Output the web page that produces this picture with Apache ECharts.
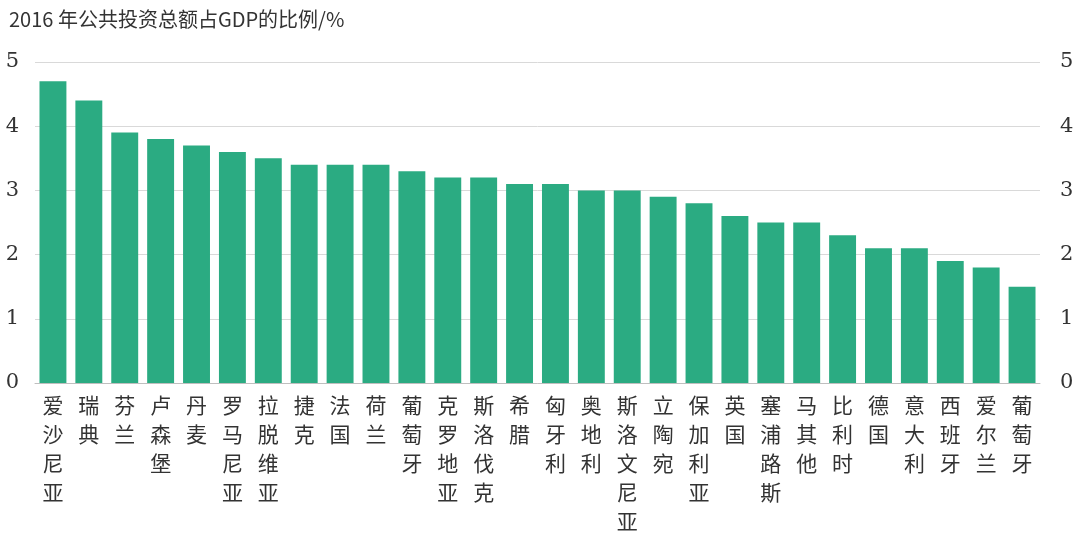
<!DOCTYPE html>
<html><head><meta charset="utf-8">
<script src="https://cdn.jsdelivr.net/npm/echarts@6/dist/echarts.min.js"></script>
<style>html,body{margin:0;background:#fff}#c{width:1080px;height:541px}</style>
</head><body><div id="c"></div>
<script>
var countries = ['爱沙尼亚','瑞典','芬兰','卢森堡','丹麦','罗马尼亚','拉脱维亚','捷克','法国','荷兰','葡萄牙','克罗地亚','斯洛伐克','希腊','匈牙利','奥地利','斯洛文尼亚','立陶宛','保加利亚','英国','塞浦路斯','马其他','比利时','德国','意大利','西班牙','爱尔兰','葡萄牙'];
var ratios = [4.7,4.4,3.9,3.8,3.7,3.6,3.5,3.4,3.4,3.4,3.3,3.2,3.2,3.1,3.1,3.0,3.0,2.9,2.8,2.6,2.5,2.5,2.3,2.1,2.1,1.9,1.8,1.5];

var font = "'Noto Sans CJK SC', sans-serif";
var chart = echarts.init(document.getElementById('c'));
var yAx = function(pos){
	return {type:'value',min:0,max:5,interval:1,position:pos,
		axisLine:{show:false},axisTick:{show:false},
		axisLabel:{color:'#333',fontSize:21,fontFamily:'DejaVu Serif',margin:pos=='left'?16:20},
		splitLine:{show:pos=='left',lineStyle:{color:'#d9d9d9'}}};
};
chart.setOption({
	animation:false,
	title:{text:'2016 年公共投资总额占GDP的比例/%',left:4,top:4,
		textStyle:{fontSize:20,fontWeight:'normal',color:'#333',fontFamily:font}},
	grid:{left:35,right:40,top:62,bottom:158},
	xAxis:{type:'category',data:countries,
		axisLine:{lineStyle:{color:'#bfbfbf'}},axisTick:{show:false},
		axisLabel:{interval:0,color:'#333',fontSize:21,fontFamily:font,lineHeight:29,margin:8,
			formatter:function(v){return v.split('').join('\n');}}},
	yAxis:[yAx('left'),yAx('right')],
	series:[{type:'bar',data:ratios,barWidth:'75%',itemStyle:{color:'#2bab82'}}]
});
</script></body></html>
